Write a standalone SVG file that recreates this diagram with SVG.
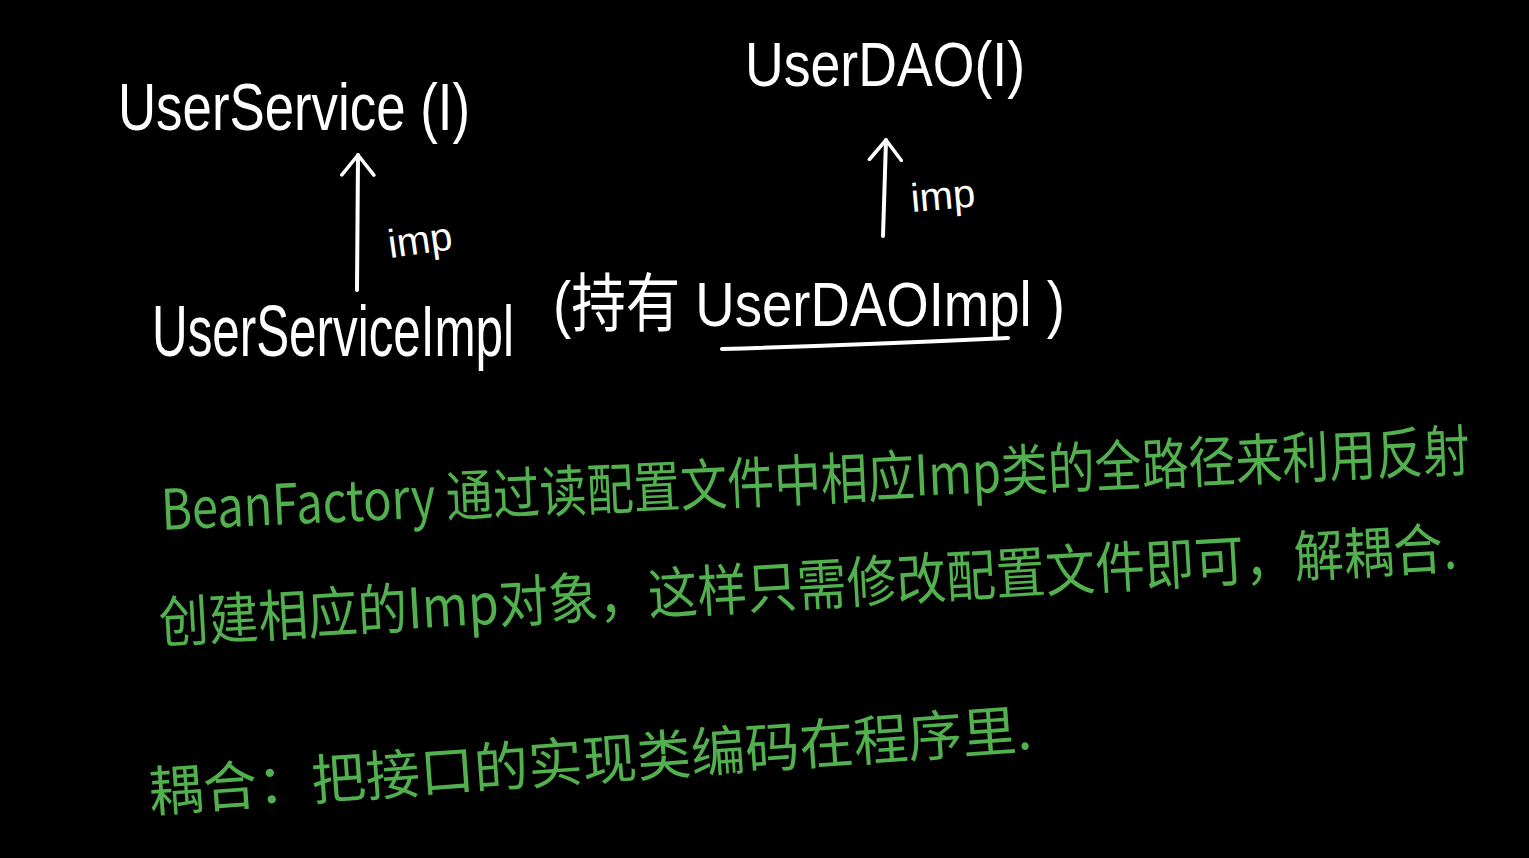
<svg xmlns="http://www.w3.org/2000/svg" width="1529" height="858" viewBox="0 0 1529 858">
<defs>
<marker id="open" viewBox="0 0 24 36" refX="22" refY="18" markerWidth="24" markerHeight="36" markerUnits="userSpaceOnUse" orient="auto">
<path d="M2 2 L22 18 L2 34" fill="none" stroke="#fff" stroke-width="3.5" stroke-linecap="round" stroke-linejoin="round"/>
</marker>
<style>
.w{fill:#fff;font-family:"Liberation Sans","Noto Sans CJK SC",sans-serif;font-weight:normal}
.g{fill:#52b04e;font-family:"Noto Sans CJK SC","Liberation Sans",sans-serif;font-weight:normal}
.c{fill:none;stroke:#fff;stroke-width:4;stroke-linecap:round}
</style>
</defs>
<rect width="1529" height="858" fill="#000"/>
<g id="userservice">
<text class="w" x="0" y="0" font-size="52.8" textLength="352" lengthAdjust="spacingAndGlyphs" transform="translate(118 130) scale(1 1.25)">UserService (I)</text>
</g>
<g id="userdao">
<text class="w" x="0" y="0" font-size="53.6" textLength="280" lengthAdjust="spacingAndGlyphs" transform="translate(745 86) scale(1 1.16)">UserDAO(I)</text>
</g>
<g id="userserviceimpl">
<text class="w" x="0" y="0" font-size="49.4" textLength="362" lengthAdjust="spacingAndGlyphs" transform="translate(152 356) scale(1 1.46)">UserServiceImpl</text>
<text class="w" x="0" y="0" font-size="54.5" textLength="512" lengthAdjust="spacingAndGlyphs" transform="translate(553 326) scale(1 1.17)">(持有 UserDAOImpl )</text>
<path class="c" d="M722 349 Q860 345 1008 338"/>
</g>
<g id="connectors">
<path class="c" d="M357 290 L358 155" marker-end="url(#open)"/>
<text class="w" x="390" y="258" font-size="40" transform="rotate(-8 390 258)">imp</text>
<path class="c" d="M883 236 L886 140" marker-end="url(#open)"/>
<text class="w" x="912" y="212" font-size="40" transform="rotate(-5 912 212)">imp</text>
</g>
<g id="notes">
<text class="g" x="0" y="0" font-size="45.6" textLength="1310" lengthAdjust="spacingAndGlyphs" transform="rotate(-2.6 162 530) translate(162 530) scale(1 1.23)">BeanFactory 通过读配置文件中相应Imp类的全路径来利用反射</text>
<text class="g" x="0" y="0" font-size="51.9" textLength="1300" lengthAdjust="spacingAndGlyphs" transform="rotate(-3.3 160 643) translate(160 643) scale(1 1.08)">创建相应的Imp对象，这样只需修改配置文件即可，解耦合.</text>
<text class="g" x="0" y="0" font-size="54.5" textLength="885" lengthAdjust="spacingAndGlyphs" transform="rotate(-4.1 150 812) translate(150 812)">耦合：把接口的实现类编码在程序里.</text>
</g>
</svg>
